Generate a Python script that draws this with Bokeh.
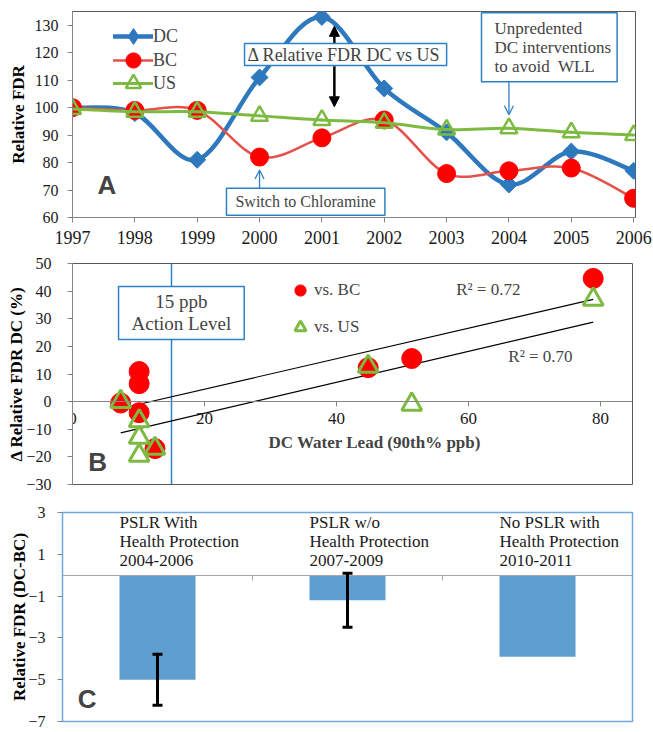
import numpy as np
from bokeh.plotting import figure
from bokeh.models import (Range1d, FixedTicker, Label, Arrow, NormalHead, OpenHead,
                          TeeHead, Whisker, ColumnDataSource, Legend, LegendItem)
from bokeh.embed import file_html
from bokeh.resources import INLINE
from bokeh.core.properties import value

# ---------------- data ----------------
years = [1997, 1998, 1999, 2000, 2001, 2002, 2003, 2004, 2005, 2006]
fdr_dc = [100, 98, 81, 111, 133, 107, 91, 72, 84, 77]
fdr_bc = [100, 99, 99, 82, 89, 95.5, 76, 77, 78, 67]
fdr_us = [99.5, 98.5, 98.5, 97, 95.5, 94.5, 92, 92.5, 91, 90]
a_ticks = [60, 70, 80, 90, 100, 110, 120, 130]

lead = [7.3, 10.1, 10.1, 10.1, 12.5, 44.8, 51.4, 78.9]
delta_bc = [-0.5, 10.9, 6.5, -4, -17, 12.3, 15.6, 44.6]
delta_us = [0, -7, -13, -19.5, -17, 12.7, -1, 37]
trend_x = [7.3, 78.9]
trend_bc = [-2.5, 37]
trend_us = [-11.3, 28.8]
b_xticks = [0, 20, 40, 60, 80]
b_yticks = [-30, -20, -10, 0, 10, 20, 30, 40, 50]

programs = ["PSLR With\nHealth Protection\n2004-2006",
            "PSLR w/o\nHealth Protection\n2007-2009",
            "No PSLR with\nHealth Protection\n2010-2011"]
prog_pos = [1, 2, 3]
fdr_diff = [-5.0, -1.2, -3.9]
fdr_err = [1.22, 1.29]
c_yticks = [-7, -5, -3, -1, 1, 3]

SERIF = "Liberation Serif"
BLUE = "#2E78BE"
RED_LINE = "#E4514B"
RED = "#FF0000"
GREEN = "#7CBA42"
BOX_BLUE = "#2E80C6"
AX = "#868686"
NAN = float("nan")


def style_axes(p, tick_size="16px"):
    p.xgrid.visible = False
    p.ygrid.visible = False
    for ax in (p.xaxis[0], p.yaxis[0]):
        ax.axis_line_color = AX
        ax.major_tick_line_color = AX
        ax.minor_tick_line_color = None
        ax.major_tick_in = 0
        ax.major_tick_out = 5
        ax.major_label_text_font = SERIF
        ax.major_label_text_font_size = tick_size
        ax.major_label_text_color = "#1a1a1a"
        ax.axis_label_text_font = SERIF
        ax.axis_label_text_font_style = "bold"
        ax.axis_label_text_font_size = "17px"
        ax.axis_label_text_color = "black"


def bezier_parts(x, y, k=1.0 / 6):
    n = len(x)
    d = dict(x0=[], y0=[], x1=[], y1=[], cx0=[], cy0=[], cx1=[], cy1=[])
    for i in range(n - 1):
        a = max(i - 1, 0)
        b = min(i + 2, n - 1)
        d["x0"].append(x[i]); d["y0"].append(y[i])
        d["x1"].append(x[i + 1]); d["y1"].append(y[i + 1])
        d["cx0"].append(x[i] + (x[i + 1] - x[a]) * k)
        d["cy0"].append(y[i] + (y[i + 1] - y[a]) * k)
        d["cx1"].append(x[i + 1] - (x[b] - x[i]) * k)
        d["cy1"].append(y[i + 1] - (y[b] - y[i]) * k)
    return ColumnDataSource(d)


def legend_one(item, loc, gw, gh, standoff, size="18px"):
    return Legend(items=[item], location=loc, glyph_width=gw, glyph_height=gh,
                  label_standoff=standoff, padding=0, margin=0, spacing=0,
                  border_line_color=None, background_fill_alpha=0,
                  label_text_font=SERIF, label_text_font_size=size,
                  label_height=20, label_text_baseline="middle")


# ---------------- Panel A ----------------
pA = figure(width=653, height=255, x_range=Range1d(1997, 2006.03), y_range=Range1d(60, 135),
            output_backend="svg", toolbar_location=None,
            min_border_left=72, min_border_right=18, min_border_top=11, min_border_bottom=38)
style_axes(pA)
pA.outline_line_color = "#595959"
pA.xaxis.ticker = FixedTicker(ticks=years)
pA.xaxis.major_label_text_font_size = "18px"
pA.xaxis.major_label_standoff = 8
pA.yaxis.ticker = FixedTicker(ticks=a_ticks)
pA.yaxis.major_label_standoff = 9
pA.yaxis.axis_label = "Relative FDR"
pA.yaxis.axis_label_standoff = 4

pA.add_layout(Arrow(x_start=2001.2, y_start=115, x_end=2001.2, y_end=129.6,
                    line_width=2.5, line_color="black",
                    end=NormalHead(size=10, fill_color="black", line_color="black")))
pA.add_layout(Arrow(x_start=2001.2, y_start=115, x_end=2001.2, y_end=100.3,
                    line_width=2.5, line_color="black",
                    end=NormalHead(size=10, fill_color="black", line_color="black")))

dc_line = pA.bezier(source=bezier_parts(years, fdr_dc), x0="x0", y0="y0", x1="x1", y1="y1",
                    cx0="cx0", cy0="cy0", cx1="cx1", cy1="cy1",
                    line_color=BLUE, line_width=4.5, line_cap="round")
dc_pts = pA.scatter(years, fdr_dc, marker="square", angle=np.pi / 4, size=12,
                    fill_color=BLUE, line_color=BLUE)
bc_line = pA.bezier(source=bezier_parts(years, fdr_bc), x0="x0", y0="y0", x1="x1", y1="y1",
                    cx0="cx0", cy0="cy0", cx1="cx1", cy1="cy1",
                    line_color=RED_LINE, line_width=2.5, line_cap="round")
bc_pts = pA.scatter(years, fdr_bc, marker="circle", size=18, fill_color=RED, line_color=RED)
us_line = pA.bezier(source=bezier_parts(years, fdr_us), x0="x0", y0="y0", x1="x1", y1="y1",
                    cx0="cx0", cy0="cy0", cx1="cx1", cy1="cy1",
                    line_color=GREEN, line_width=3, line_cap="round")
us_pts = pA.scatter(years, fdr_us, marker="triangle", size=17, fill_color=None,
                    line_color=GREEN, line_width=2.5)
# legend-only diamond (not drawn in the plot: nan position)
dc_key = pA.scatter([NAN], [NAN], marker="diamond", fill_color=BLUE, line_color=BLUE)

pA.add_layout(Label(x=2001.38, y=119.3, text="\u0394 Relative FDR DC vs US",
                    text_font=SERIF, text_font_size="18px", text_align="center",
                    text_baseline="middle", background_fill_color="white",
                    border_line_color=BOX_BLUE, border_line_width=1.5,
                    padding=dict(left=3, right=6, top=1, bottom=1)))

pA.add_layout(Arrow(x_start=2004.0, y_start=111.1, x_end=2004.0, y_end=97.4,
                    line_width=1.3, line_color=BOX_BLUE,
                    end=OpenHead(size=9, line_color=BOX_BLUE, line_width=1.3)))
pA.add_layout(Label(x=2003.56, y=122.0,
                    text="Unpredented\nDC interventions\nto avoid\u00a0 WLL",
                    text_font=SERIF, text_font_size="17px", text_align="left",
                    text_baseline="middle", text_line_height=1.0,
                    background_fill_color="white",
                    border_line_color=BOX_BLUE, border_line_width=1.5,
                    padding=dict(left=13, right=6, top=6, bottom=6)))

pA.add_layout(Arrow(x_start=2000.0, y_start=70.6, x_end=2000.0, y_end=77.3,
                    line_width=1.3, line_color=BOX_BLUE,
                    end=OpenHead(size=9, line_color=BOX_BLUE, line_width=1.3)))
pA.add_layout(Label(x=2000.74, y=65.7, text="Switch to Chloramine",
                    text_font=SERIF, text_font_size="16px", text_align="center",
                    text_baseline="middle", background_fill_color="white",
                    border_line_color=BOX_BLUE, border_line_width=1.5,
                    padding=dict(left=9, right=9, top=5, bottom=5)))

pA.add_layout(Label(x=1997.55, y=71.7, text="A", text_font="Liberation Sans",
                    text_font_style="bold", text_font_size="26px",
                    text_align="center", text_baseline="middle"))

pA.add_layout(legend_one(LegendItem(label="DC", renderers=[dc_line, dc_key]), (41, 161), 40, 40, 0))
pA.add_layout(legend_one(LegendItem(label="BC", renderers=[bc_line, bc_pts]), (41, 138), 40, 38, 0))
pA.add_layout(legend_one(LegendItem(label="US", renderers=[us_line, us_pts]), (41, 115), 40, 38, 0))

# ---------------- Panel B ----------------
pB = figure(width=653, height=243, x_range=Range1d(0, 84.85), y_range=Range1d(-30, 50),
            output_backend="svg", toolbar_location=None,
            min_border_left=72, min_border_right=21, min_border_top=8, min_border_bottom=14)
style_axes(pB)
pB.outline_line_color = "#595959"
pB.xaxis.fixed_location = 0
pB.xaxis.ticker = FixedTicker(ticks=b_xticks)
pB.xaxis.major_label_text_font_size = "17px"
pB.xaxis.major_label_standoff = 6
pB.yaxis.ticker = FixedTicker(ticks=b_yticks)
pB.yaxis.major_label_standoff = 16
pB.yaxis.axis_label = "\u0394 Relative FDR DC (%)"
pB.yaxis.axis_label_standoff = -3

pB.line(x=[15, 15], y=[-30, 50], line_color=BOX_BLUE, line_width=1.5)
pB.line(trend_x, trend_bc, line_color="black", line_width=1.2)
pB.line(trend_x, trend_us, line_color="black", line_width=1.2)
b_red = pB.scatter(lead, delta_bc, marker="circle", size=20, fill_color=RED, line_color=RED)
b_grn = pB.scatter(lead, delta_us, marker="triangle", size=20, fill_color=None,
                   line_color=GREEN, line_width=3)

pB.add_layout(Label(x=16.5, y=32.1, text="15 ppb\nAction Level", text_font=SERIF,
                    text_font_size="19px", text_align="center", text_baseline="middle",
                    text_line_height=1.05, background_fill_color="white",
                    border_line_color=BOX_BLUE, border_line_width=1.5,
                    padding=dict(left=13, right=13, top=5, bottom=5)))
pB.add_layout(Label(x=63.0, y=40.6, text="R\u00b2 = 0.72", text_font=SERIF,
                    text_font_size="17px", text_align="center", text_baseline="middle"))
pB.add_layout(Label(x=70.9, y=16.3, text="R\u00b2 = 0.70", text_font=SERIF,
                    text_font_size="17px", text_align="center", text_baseline="middle"))
pB.add_layout(Label(x=45.8, y=-14.9, text="DC Water Lead (90th% ppb)", text_font=SERIF,
                    text_font_style="bold", text_font_size="17px",
                    text_align="center", text_baseline="middle"))
pB.add_layout(Label(x=3.8, y=-21.7, text="B", text_font="Liberation Sans",
                    text_font_style="bold", text_font_size="26px",
                    text_align="center", text_baseline="middle"))
pB.add_layout(legend_one(LegendItem(label="vs. BC", renderers=[b_red]), (214, 180), 28, 28, 0, "17px"))
pB.add_layout(legend_one(LegendItem(label="vs. US", renderers=[b_grn]), (214, 143), 28, 28, 0, "17px"))

# ---------------- Panel C ----------------
pC = figure(width=653, height=234, x_range=Range1d(0.5, 3.5), y_range=Range1d(-7, 3),
            output_backend="svg", toolbar_location=None,
            min_border_left=62, min_border_right=21, min_border_top=14, min_border_bottom=11)
style_axes(pC)
pC.outline_line_color = "#6FA8DC"
pC.outline_line_width = 1.5
pC.yaxis.ticker = FixedTicker(ticks=c_yticks)
pC.yaxis.axis_line_color = "#6FA8DC"
pC.yaxis.major_label_standoff = 12
pC.yaxis.axis_label = "Relative FDR (DC-BC)"
pC.yaxis.axis_label_standoff = -4
pC.xaxis.fixed_location = 0
pC.xaxis.ticker = FixedTicker(ticks=[1.5, 2.5])
pC.xaxis.major_label_text_color = None
pC.xaxis.axis_line_color = "#A6A6A6"
pC.xaxis.major_tick_line_color = "#A6A6A6"

pC.vbar(x=prog_pos, top=fdr_diff, bottom=0, width=0.4, fill_color="#5F9ED1", line_color=None)
err_src = ColumnDataSource(dict(
    base=prog_pos[:2],
    upper=[fdr_diff[i] + fdr_err[i] for i in range(2)],
    lower=[fdr_diff[i] - fdr_err[i] for i in range(2)]))
pC.add_layout(Whisker(source=err_src, base="base", upper="upper", lower="lower",
                      level="overlay", line_width=3, line_color="black",
                      upper_head=TeeHead(size=10, line_width=3, line_color="black"),
                      lower_head=TeeHead(size=10, line_width=3, line_color="black")))
pC.text(x=[c - 0.2 for c in prog_pos], y=[3] * 3, text=programs,
        text_font=value(SERIF), text_font_size="17px", text_align="left",
        text_baseline="top", text_line_height=1.0, y_offset=0, text_color="#1a1a1a")
pC.add_layout(Label(x=0.63, y=-5.9, text="C", text_font="Liberation Sans",
                    text_font_style="bold", text_font_size="26px",
                    text_align="center", text_baseline="middle"))

open("out.html", "w").write(file_html([pA, pB, pC], INLINE))
